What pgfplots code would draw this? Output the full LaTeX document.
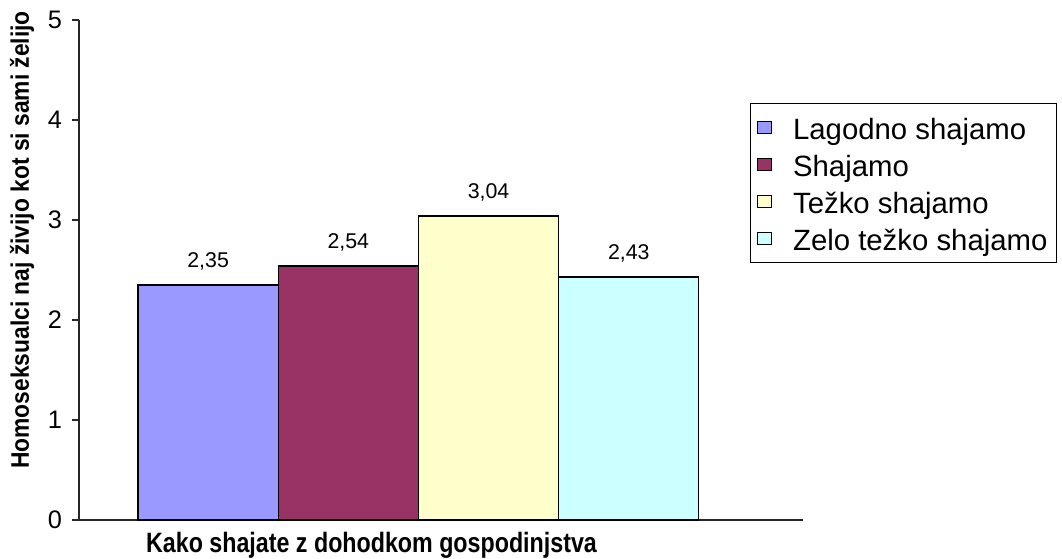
\documentclass[border=0pt]{standalone}
\usepackage{fontspec}
\setmainfont{Liberation Sans}
\usepackage{pgfplots}
\pgfplotsset{compat=1.18}

\definecolor{barA}{HTML}{9999FF}
\definecolor{barB}{HTML}{993366}
\definecolor{barC}{HTML}{FFFFCC}
\definecolor{barD}{HTML}{CCFFFF}

\pgfplotsset{
  sq/.style={legend image code/.code={
    \draw[#1,line width=0.8pt] (0pt,-4.25pt) rectangle (10pt,4.25pt);}},
}

\begin{document}
\begin{tikzpicture}
\useasboundingbox (-59.25pt,-28.5pt) rectangle (737.25pt,390pt);
\begin{axis}[
  scale only axis, width=543pt, height=375pt,
  at={(0,0)}, anchor=south west,
  xmin=0.0793, xmax=5.242, ymin=0, ymax=5,
  axis lines*=left,
  axis line style={line width=1.2pt, black!85},
  xtick=\empty,
  ytick={0,1,2,3,4,5},
  tick align=outside, major tick length=5.25pt,
  tick style={line width=1.2pt, black!85},
  /pgf/number format/assume math mode=true,
  yticklabel style={font=\fontsize{19}{22}\selectfont, xshift=-4pt},
  ybar, bar width=1, bar shift=0pt,
  nodes near coords={\pgfmathprintnumber[fixed,fixed zerofill,precision=2,use comma]{\pgfplotspointmeta}},
  nodes near coords style={font=\fontsize{16}{18}\selectfont, anchor=base, yshift=13.5pt, text=black},
  xlabel={\scalebox{0.83}[1]{\bfseries Kako shajate z dohodkom gospodinjstva}},
  xlabel style={font=\fontsize{21}{24}\selectfont, at={(axis description cs:0.404,-0.024)}, anchor=north, inner sep=0pt},
  ylabel={\scalebox{0.9}[1]{\bfseries Homoseksualci naj živijo kot si sami želijo}},
  ylabel style={font=\fontsize{19}{22}\selectfont, at={(axis description cs:-0.0787,0.56)}, anchor=center, rotate=0},
  legend cell align=left,
  legend style={at={(axis description cs:0.9268,0.834)}, anchor=north west,
    draw=black, line width=1pt, inner xsep=5pt, inner ysep=4pt,
    font=\fontsize{22}{26}\selectfont,
    nodes={text height=20.5pt, text depth=2.45pt, inner ysep=2.4pt, inner xsep=2pt},
    row sep=0pt, column sep=14pt},
]
\addplot[sq, fill=barA, draw=black, line width=0.8pt, bar shift=0pt] coordinates {(1,2.35)};
\addplot[sq, fill=barB, draw=black, line width=0.8pt, bar shift=0pt] coordinates {(2,2.54)};
\addplot[sq, fill=barC, draw=black, line width=0.8pt, bar shift=0pt] coordinates {(3,3.04)};
\addplot[sq, fill=barD, draw=black, line width=0.8pt, bar shift=0pt] coordinates {(4,2.43)};
\legend{Lagodno shajamo, Shajamo, Težko shajamo, Zelo težko shajamo}
\end{axis}
\end{tikzpicture}
\end{document}
